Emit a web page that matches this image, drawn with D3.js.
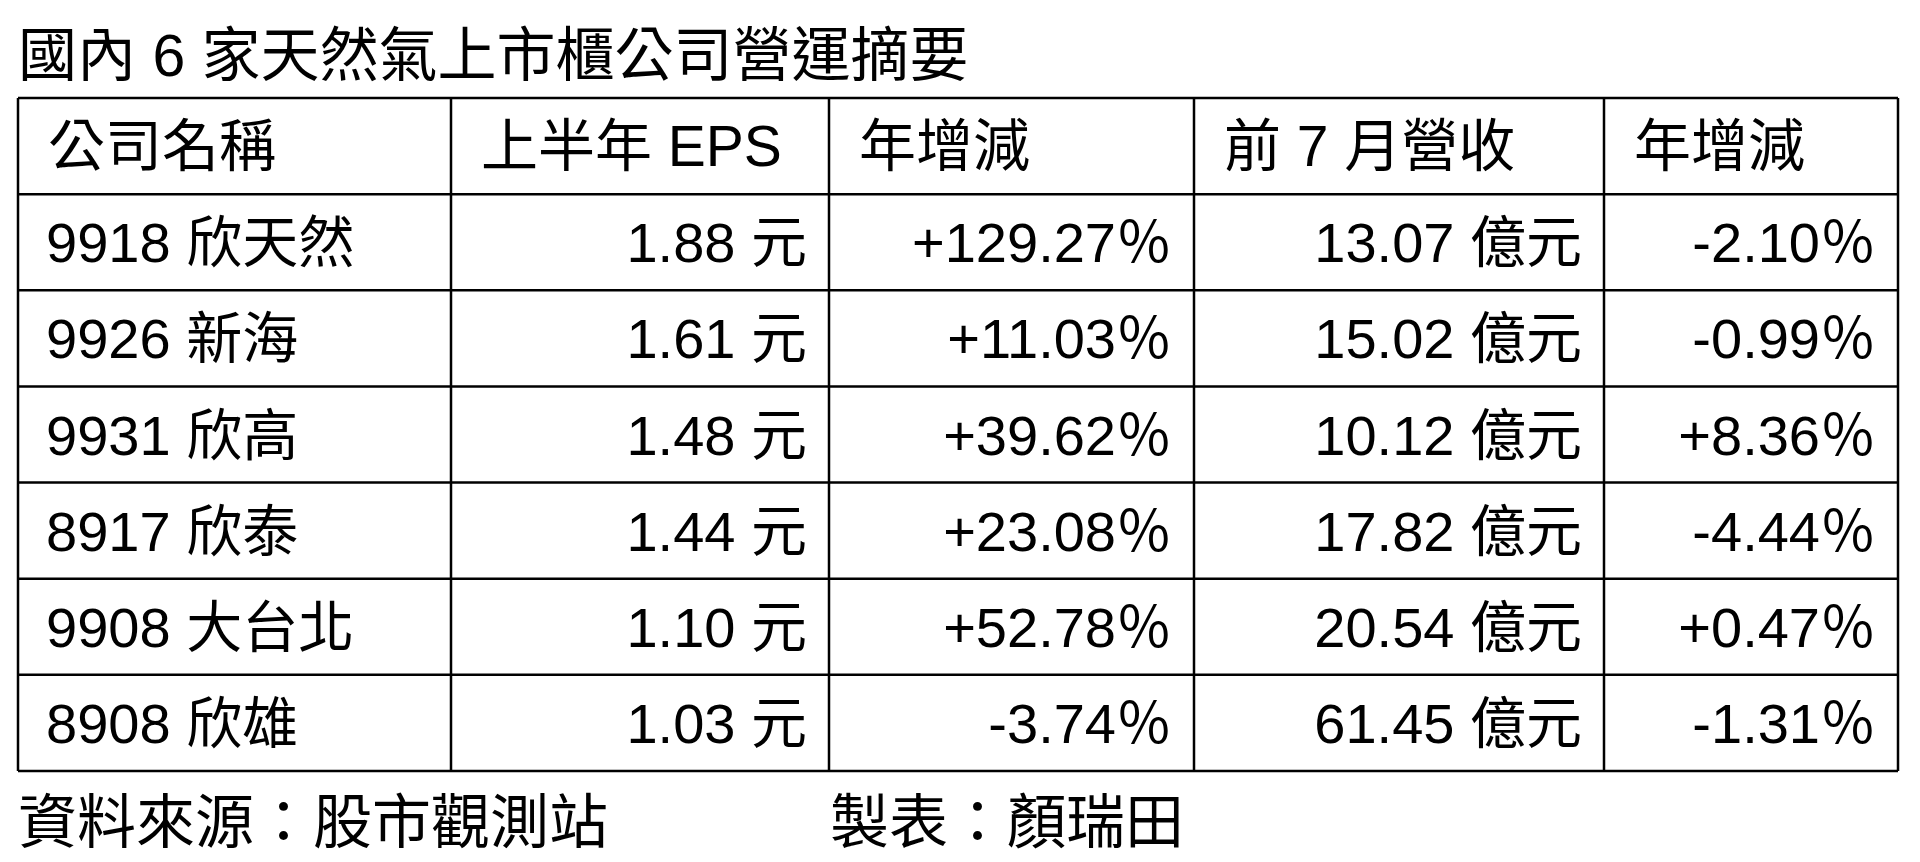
<!DOCTYPE html>
<html><head><meta charset="utf-8">
<script src="https://cdn.jsdelivr.net/npm/d3@7"></script>
<style>body{margin:0;background:#fff}</style>
</head><body>
<svg id="chart" width="1920" height="862"></svg>
<script>
var title = '國內 6 家天然氣上市櫃公司營運摘要';
var headers = ['公司名稱', '上半年 EPS', '年增減', '前 7 月營收', '年增減'];
var companies = ['9918 欣天然', '9926 新海', '9931 欣高', '8917 欣泰', '9908 大台北', '8908 欣雄'];
var eps = ['1.88', '1.61', '1.48', '1.44', '1.10', '1.03'];
var epsChange = ['+129.27', '+11.03', '+39.62', '+23.08', '+52.78', '-3.74'];
var revenue = ['13.07', '15.02', '10.12', '17.82', '20.54', '61.45'];
var revenueChange = ['-2.10', '-0.99', '+8.36', '-4.44', '+0.47', '-1.31'];
var footer = ['資料來源：股市觀測站', '製表：顏瑞田'];

var colEdges = [18, 451, 829, 1194, 1604, 1898];
var font = '"Liberation Sans", "Noto Sans CJK TC", sans-serif';
var cjk = '"Noto Sans CJK TC", sans-serif';

var svg = d3.select('#chart');

var rowKeys = ['header'].concat(companies);
var y = d3.scaleBand().domain(rowKeys).range([98, 771]);

var rows = companies.map(function(c, i) {
    return [
        {t: c}, {t: eps[i] + ' 元'}, {t: epsChange[i], pct: true},
        {t: revenue[i] + ' 億元'}, {t: revenueChange[i], pct: true}
    ];
});

svg.append('text')
    .attr('x', 18).attr('y', 76)
    .style('font-family', font).style('font-size', '59px')
    .text(title);

// header row
svg.selectAll('text.head')
    .data(headers)
    .enter().append('text')
    .attr('class', 'head')
    .attr('x', function(d, i) { return colEdges[i] + 30; })
    .attr('y', y('header') + y.bandwidth() / 2 + 20)
    .style('font-family', font).style('font-size', '57px')
    .text(function(d) { return d; });

// body rows
rows.forEach(function(r, ri) {
    var cells = svg.selectAll('text.r' + ri)
        .data(r)
        .enter().append('text')
        .attr('class', 'r' + ri)
        .attr('x', function(d, i) { return i === 0 ? colEdges[0] + 28 : colEdges[i + 1] - 22; })
        .attr('text-anchor', function(d, i) { return i === 0 ? 'start' : 'end'; })
        .attr('y', y(companies[ri]) + y.bandwidth() / 2 + 20)
        .style('font-family', font).style('font-size', '56px');
    cells.append('tspan').text(function(d) { return d.t; });
    cells.filter(function(d) { return d.pct; })
        .append('tspan')
        .style('font-family', cjk)
        .text('％');
});

// grid lines
svg.selectAll('line.h')
    .data(rowKeys.map(function(k) { return y(k); }).concat([771]))
    .enter().append('line')
    .attr('x1', colEdges[0]).attr('x2', colEdges[5])
    .attr('y1', function(d) { return d; }).attr('y2', function(d) { return d; })
    .attr('stroke', '#000').attr('stroke-width', 2.5);

svg.selectAll('line.v')
    .data(colEdges)
    .enter().append('line')
    .attr('y1', 98).attr('y2', 771)
    .attr('x1', function(d) { return d; }).attr('x2', function(d) { return d; })
    .attr('stroke', '#000').attr('stroke-width', 2.5);

svg.selectAll('text.foot')
    .data(footer)
    .enter().append('text')
    .attr('x', function(d, i) { return i === 0 ? 18 : 830; })
    .attr('y', 843)
    .style('font-family', font).style('font-size', '59px')
    .text(function(d) { return d; });
</script>
</body></html>
